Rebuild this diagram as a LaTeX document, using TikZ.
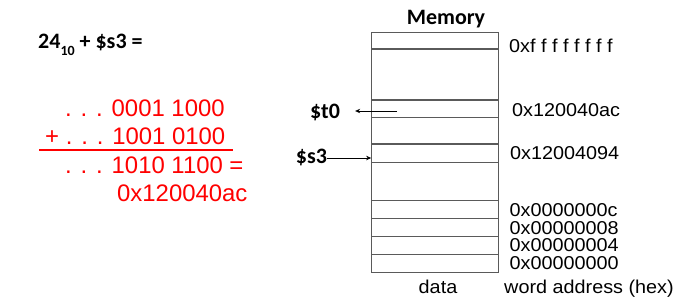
\documentclass[tikz,border=0pt]{standalone}
\usepackage{fontspec}
\setmainfont{Liberation Sans}
\newfontfamily\calfont{Carlito}
\newfontfamily\addrfont[FakeStretch=1.065]{Liberation Sans}
\usetikzlibrary{arrows.meta}
\definecolor{boxgray}{HTML}{5A5A5A}
\definecolor{redtext}{HTML}{FF0000}
\begin{document}
\begin{tikzpicture}[x=1pt,y=-1pt,
  addr/.style={anchor=west, inner sep=0pt, text height=13pt, text depth=0pt, font=\addrfont\fontsize{18.6}{19}\selectfont},
  redtxt/.style={anchor=west, inner sep=0pt, text=redtext, font=\fontsize{23.9}{24}\selectfont},
  boldlbl/.style={inner sep=0pt, font=\calfont\bfseries\fontsize{22}{22}\selectfont},
  memcell/.style={draw=boxgray, line width=1.1pt, minimum width=126.6pt, inner sep=0pt},
  ptr/.style={draw=black, line width=0.9pt, -{Stealth[length=5pt,width=4.5pt]}}]
\useasboundingbox (0,0) rectangle (678,303);
% left: computation
\node[boldlbl, anchor=west] (sum) at (38,45) {24\raisebox{-0.3em}{\fontsize{14}{14}\selectfont 10} + \$s3 =};
\node[redtxt] (l1) at (65,108) {. . . 0001 1000};
\node[redtxt] (l2) at (45,136) {+ . . . 1001 0100};
\coordinate (ruleA) at (39,150);
\coordinate (ruleB) at (233,150);
\draw[redtext, line width=2pt] (ruleA) -- (ruleB);
\node[redtxt] (l3) at (65,165) {. . . 1010 1100 =};
\node[redtxt] (l4) at (117,193) {0x120040ac};
% memory
\node[boldlbl] (title) at (446,19) {Memory};
\node[memcell, minimum height=240pt] (mem) at (435,152.3) {};
\node[memcell, minimum height=16.7pt] (ctop) at (435,40.65) {};
\node[memcell, minimum height=17.7pt] (ct0) at (435,108.85) {};
\node[memcell, minimum height=18.3pt] (cs3) at (435,153.15) {};
\node[memcell, minimum height=17.9pt] (cc) at (435,209.65) {};
\node[memcell, minimum height=17.9pt] (c8) at (435,227.55) {};
\node[memcell, minimum height=17.9pt] (c4) at (435,245.45) {};
\node[memcell, minimum height=17.9pt] (c0) at (435,263.35) {};
% addresses
\node[addr] (aff) at (509,46) {0xf f f f f f f f};
\node[addr] (aac) at (512,110) {0x120040ac};
\node[addr] (a94) at (510,153) {0x12004094};
\node[addr] (ac) at (509.5,210) {0x0000000c};
\node[addr] (a8) at (509.5,227.5) {0x00000008};
\node[addr] (a4) at (509.5,245) {0x00000004};
\node[addr] (a0) at (509.5,262.5) {0x00000000};
\node[addr, anchor=center] (data) at (438,287) {data};
\node[addr] (wa) at (504,287) {word address (hex)};
% pointers
\node[boldlbl] (t0) at (325,112) {\$t0};
\node[boldlbl] (s3) at (311.5,157) {\$s3};
\coordinate (t0from) at (397,111);
\draw[ptr, shorten >=15pt] (t0from) -- (t0from -| t0.east);
\draw[ptr] ([yshift=-1pt]s3.east) -- ([yshift=-1pt]s3.east -| mem.west);
\end{tikzpicture}
\end{document}
